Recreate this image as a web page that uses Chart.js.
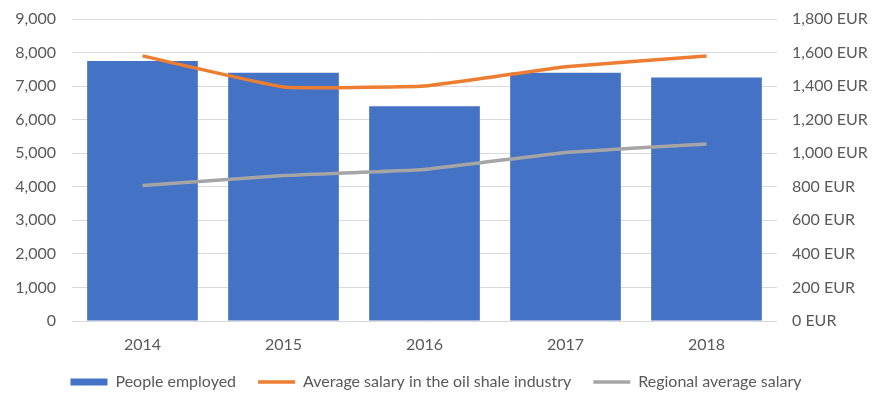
<!DOCTYPE html>
<html>
<head>
<meta charset="utf-8">
<script src="https://cdn.jsdelivr.net/npm/chart.js@4.4.1/dist/chart.umd.min.js"></script>
<style>
  html, body { margin: 0; padding: 0; background: #fff; }
  #wrap { width: 872px; height: 396px; }
</style>
</head>
<body>
<div id="wrap"><canvas id="chart" width="872" height="396"></canvas></div>
<script>
const years = ['2014', '2015', '2016', '2017', '2018'];
const peopleEmployed = [7750, 7400, 6400, 7400, 7260];
const oilShaleSalary = [1580, 1395, 1400, 1515, 1580];
const regionalSalary = [807, 867, 903, 1005, 1055];

const textColor = '#595959';
const gridColor = '#d9d9d9';
Chart.defaults.font.family = 'Lato, "Open Sans", sans-serif';
Chart.defaults.font.size = 16;
Chart.defaults.color = textColor;

// fixed axis widths, and no extra vertical padding from the tick labels
function fixWidth(w) {
  return scale => {
    scale.width = w;
    scale.paddingTop = 0;
    scale.paddingBottom = 0;
  };
}

const ctx = document.getElementById('chart').getContext('2d');
new Chart(ctx, {
  type: 'bar',
  data: {
    labels: years,
    datasets: [
      {
        label: 'People employed',
        data: peopleEmployed,
        backgroundColor: '#4472c4',
        yAxisID: 'y',
        categoryPercentage: 1,
        barPercentage: 0.785,
        order: 2
      },
      {
        type: 'line',
        label: 'Average salary in the oil shale industry',
        data: oilShaleSalary,
        borderColor: '#ed7d31',
        backgroundColor: '#ed7d31',
        borderWidth: 3.5,
        pointRadius: 0,
        tension: 0.1,
        yAxisID: 'y2',
        order: 1
      },
      {
        type: 'line',
        label: 'Regional average salary',
        data: regionalSalary,
        borderColor: '#a5a5a5',
        backgroundColor: '#a5a5a5',
        borderWidth: 3.5,
        pointRadius: 0,
        tension: 0.1,
        yAxisID: 'y2',
        order: 1
      }
    ]
  },
  options: {
    responsive: false,
    animation: false,
    layout: { padding: { top: 19, left: 0, right: 0, bottom: -4 } },
    plugins: {
      tooltip: { enabled: false },
      legend: {
        position: 'bottom',
        labels: {
          usePointStyle: true,
          pointStyleWidth: 37,
          boxHeight: 7,
          padding: 22,
          color: textColor,
          font: { size: 16 },
          sort: (a, b) => a.datasetIndex - b.datasetIndex,
          generateLabels(chart) {
            return chart.data.datasets.map((ds, i) => ({
              text: ds.label,
              datasetIndex: i,
              fillStyle: ds.backgroundColor,
              strokeStyle: ds.type === 'line' ? ds.borderColor : ds.backgroundColor,
              lineWidth: ds.type === 'line' ? 3.5 : 0,
              pointStyle: ds.type === 'line' ? 'line' : 'rect',
              fontColor: textColor
            }));
          }
        }
      }
    },
    scales: {
      x: {
        grid: { display: false, drawTicks: false },
        border: { display: false },
        ticks: { padding: 14 },
        afterFit(scale) { scale.height = 31; }
      },
      y: {
        position: 'left',
        min: 0,
        max: 9000,
        ticks: {
          stepSize: 1000,
          padding: 16,
          callback: v => v.toLocaleString('en-US')
        },
        grid: { color: gridColor, lineWidth: 1, drawTicks: false },
        border: { display: false },
        afterFit: fixWidth(72)
      },
      y2: {
        position: 'right',
        min: 0,
        max: 1800,
        ticks: {
          stepSize: 200,
          padding: 15,
          crossAlign: 'near',
          callback: v => v.toLocaleString('en-US') + ' EUR'
        },
        grid: { display: false, drawTicks: false },
        border: { display: false },
        afterFit: fixWidth(95)
      }
    }
  }
});
</script>
</body>
</html>
